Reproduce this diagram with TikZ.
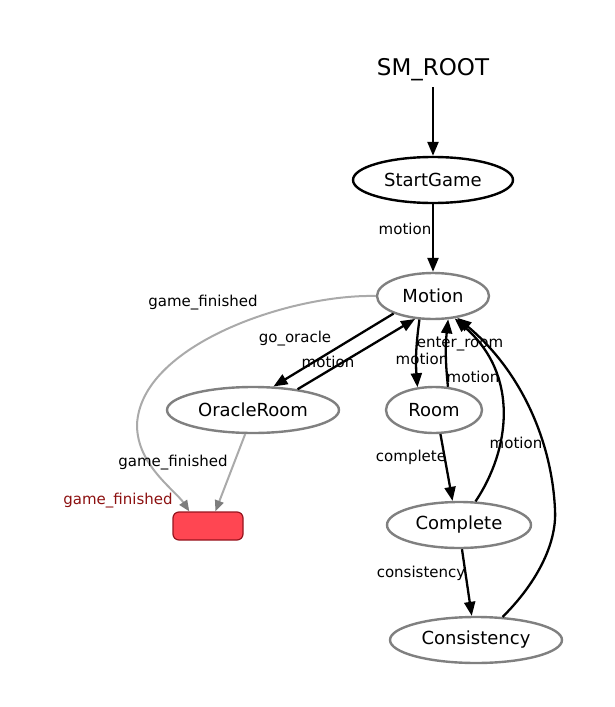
\documentclass[tikz,border=0pt]{standalone}
\usepackage{fontspec}
\setmainfont{DejaVu Sans}
\usepackage{tikz}
\usetikzlibrary{shapes.geometric, arrows.meta, positioning}
\definecolor{stateborder}{RGB}{128,128,128}
\definecolor{finedge}{RGB}{170,170,170}
\definecolor{fintip}{RGB}{125,125,125}
\definecolor{finfill}{RGB}{255,70,82}
\definecolor{finborder}{RGB}{150,20,30}
\definecolor{fintext}{RGB}{140,16,16}

\begin{document}
\begin{tikzpicture}[x=1pt, y=-1pt,
  smstate/.style={shape=ellipse, minimum height=46pt, inner sep=0pt, line width=2.4pt, draw=stateborder, fill=white, font=\fontsize{18}{20}\selectfont},
  initstate/.style={smstate, draw=black},
  outcome/.style={shape=rectangle, rounded corners=6pt, minimum width=70pt, minimum height=28pt, line width=1.2pt, draw=finborder, fill=finfill},
  trans/.style={line width=2.3pt, -{Triangle[length=14pt, width=11pt]}},
  fintrans/.style={line width=2pt, draw=finedge, -{Triangle[length=11pt, width=9pt, color=fintip]}},
  elabel/.style={inner sep=0pt, font=\fontsize{15}{17}\selectfont}]
\useasboundingbox (0,0) rectangle (615,707);
\node[inner sep=6pt, font=\fontsize{23}{26}\selectfont] (root) at (433,70) {SM\_ROOT};
\node[initstate, minimum width=160pt] (startgame) at (433,180) {StartGame};
\node[smstate, minimum width=112pt] (motion) at (433,296) {Motion};
\node[smstate, minimum width=172pt] (oracle) at (253,410) {OracleRoom};
\node[smstate, minimum width=96pt] (room) at (434,410) {Room};
\node[smstate, minimum width=144pt] (complete) at (459,525) {Complete};
\node[smstate, minimum width=172pt] (consistency) at (476,640) {Consistency};
%container outcome
\node[outcome] (fin) at (208,526) {};
\node[elabel, text=fintext] (lbl_fin) at (118,501) {game\_finished};
%transitions
\draw[trans] (root) -- (startgame);
\draw[trans] (startgame) -- (motion);
\draw[trans] (motion.204) -- (oracle.49);
\draw[trans] (oracle.25) -- (motion.232);
\draw[trans] (motion.240) to[bend right=6] (room.126);
\draw[trans] (room.59) to[bend left=6] (motion.303);
\draw[trans] (room.285) -- (complete.105);
\draw[trans] (complete.55) .. controls (510,450) and (520,375) .. (motion.314);
\draw[trans] (complete.277) -- (consistency.100);
\draw[trans] (consistency.41) .. controls (535,585) and (557,545) .. (555,510) .. controls (552,440) and (520,370) .. (motion.318);
\draw[fintrans] (motion.180) .. controls (290,294) and (140,345) .. (137,425) .. controls (137,465) and (175,490) .. (fin.142);
\draw[fintrans] (oracle.252) -- (fin.63);
%labels
\node[elabel] (lbl_start) at (405,229) {motion};
\node[elabel] (lbl_gf1) at (203,303) {game\_finished};
\node[elabel] (lbl_go) at (295,339) {go\_oracle};
\node[elabel] (lbl_om) at (328,362) {motion};
\node[elabel] (lbl_rm1) at (422,359) {motion};
\node[elabel] (lbl_enter) at (460,344) {enter\_room};
\node[elabel] (lbl_rm2) at (473,377) {motion};
\node[elabel] (lbl_comp) at (411,457) {complete};
\node[elabel] (lbl_cm) at (516,443) {motion};
\node[elabel] (lbl_cons) at (421,573) {consistency};
\node[elabel] (lbl_gf2) at (173,463) {game\_finished};
\end{tikzpicture}
\end{document}
